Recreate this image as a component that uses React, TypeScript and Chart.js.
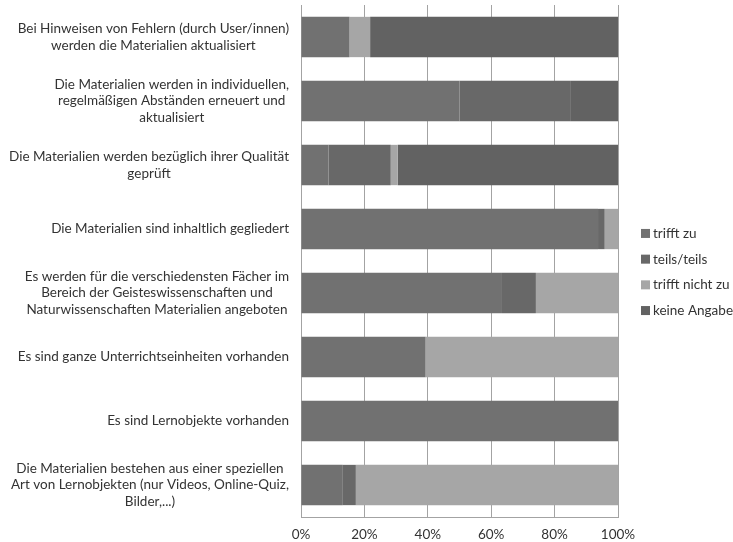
import React, { useEffect, useRef } from "react";
import { Chart, registerables } from "chart.js";

Chart.register(...registerables);

const categories: string[][] = [
  ["Bei Hinweisen von Fehlern (durch User/innen)", "werden die Materialien aktualisiert"],
  ["Die Materialien werden in individuellen,", "regelmäßigen Abständen erneuert und", "aktualisiert"],
  ["Die Materialien werden bezüglich ihrer Qualität", "geprüft"],
  ["Die Materialien sind inhaltlich gegliedert"],
  ["Es werden für die verschiedensten Fächer im", "Bereich der Geisteswissenschaften und", "Naturwissenschaften Materialien angeboten"],
  ["Es sind ganze Unterrichtseinheiten vorhanden"],
  ["Es sind Lernobjekte vorhanden"],
  ["Die Materialien bestehen aus einer speziellen", "Art von Lernobjekten (nur Videos, Online-Quiz,", "Bilder,...)"],
];

const seriesNames = ["trifft zu", "teils/teils", "trifft nicht zu", "keine Angabe"];
const trifftZu = [15.3, 50.0, 8.7, 93.7, 63.4, 39.3, 100, 13.2];
const teilsTeils = [0, 34.9, 19.6, 2.1, 10.7, 0, 0, 4.1];
const trifftNichtZu = [6.5, 0, 2.2, 4.2, 25.9, 60.7, 0, 82.7];
const keineAngabe = [78.2, 15.1, 69.5, 0, 0, 0, 0, 0];
const seriesColors = ["#717171", "#686868", "#a6a6a6", "#626262"];
const xTicks = [0, 20, 40, 60, 80, 100];

const FONT = "Lato, 'Open Sans', sans-serif";
const TEXT_COLOR = "#333333";

const labelPlugin = {
  id: "centeredYLabels",
  afterDraw(chart: any) {
    const ctx = chart.ctx;
    const yScale = chart.scales.y;
    const right = chart.chartArea.left - 12;
    const lh = 16.7;
    ctx.save();
    ctx.font = `13.5px ${FONT}`;
    ctx.fillStyle = TEXT_COLOR;
    ctx.textAlign = "center";
    ctx.textBaseline = "middle";
    categories.forEach((lines, i) => {
      const y = yScale.getPixelForValue(i);
      const w = Math.max(...lines.map((l) => ctx.measureText(l).width));
      const cx = right - w / 2;
      const y0 = y - ((lines.length - 1) * lh) / 2;
      lines.forEach((l, j) => ctx.fillText(l, cx, y0 + j * lh));
    });
    ctx.restore();
  },
};

const legendPlugin = {
  id: "customLegend",
  afterDraw(chart: any) {
    const ctx = chart.ctx;
    const x = chart.chartArea.right + 23;
    const centerY = 272;
    const step = 25.7;
    const n = chart.data.datasets.length;
    ctx.save();
    ctx.font = `13.5px ${FONT}`;
    ctx.textAlign = "left";
    ctx.textBaseline = "middle";
    chart.data.datasets.forEach((ds: any, i: number) => {
      const y = centerY + (i - (n - 1) / 2) * step;
      ctx.fillStyle = ds.backgroundColor;
      ctx.fillRect(x, y - 4.5, 9, 9);
      ctx.fillStyle = TEXT_COLOR;
      ctx.fillText(ds.label, x + 12, y);
    });
    ctx.restore();
  },
};

export default function App() {
  const ref = useRef<HTMLCanvasElement | null>(null);
  useEffect(() => {
    if (!ref.current) return;
    const values = [trifftZu, teilsTeils, trifftNichtZu, keineAngabe];
    const chart = new Chart(ref.current, {
      type: "bar",
      data: {
        labels: categories.map((c) => c.join(" ")),
        datasets: seriesNames.map((name, i) => ({
          label: name,
          data: values[i],
          backgroundColor: seriesColors[i],
          borderWidth: 0,
          barPercentage: 0.63,
          categoryPercentage: 1,
        })),
      },
      options: {
        indexAxis: "y",
        animation: false,
        responsive: false,
        maintainAspectRatio: false,
        layout: { padding: { left: 301, right: 115, top: 5, bottom: 0 } },
        plugins: {
          legend: { display: false },
          tooltip: { enabled: false },
        },
        scales: {
          x: {
            stacked: true,
            min: 0,
            max: 100,
            afterBuildTicks: (scale: any) => {
              scale.ticks = xTicks.map((v) => ({ value: v }));
            },
            afterFit: (scale: any) => {
              scale.height = 25;
            },
            grid: { color: "#a3a3a3", drawTicks: false, lineWidth: 1 },
            border: { display: true, color: "#a3a3a3" },
            ticks: {
              padding: 10,
              color: TEXT_COLOR,
              font: { family: FONT, size: 13.5 },
              callback: (v: any) => v + "%",
            },
          },
          y: {
            stacked: true,
            grid: { display: false, drawTicks: false },
            border: { display: true, color: "#a3a3a3" },
            ticks: { display: false },
          },
        },
      },
      plugins: [labelPlugin, legendPlugin],
    });
    return () => chart.destroy();
  }, []);
  return (
    <div style={{ position: "fixed", left: 0, top: 0, width: 733, height: 542, background: "#fff" }}>
      <canvas ref={ref} width={733} height={542} style={{ width: 733, height: 542 }} />
    </div>
  );
}
